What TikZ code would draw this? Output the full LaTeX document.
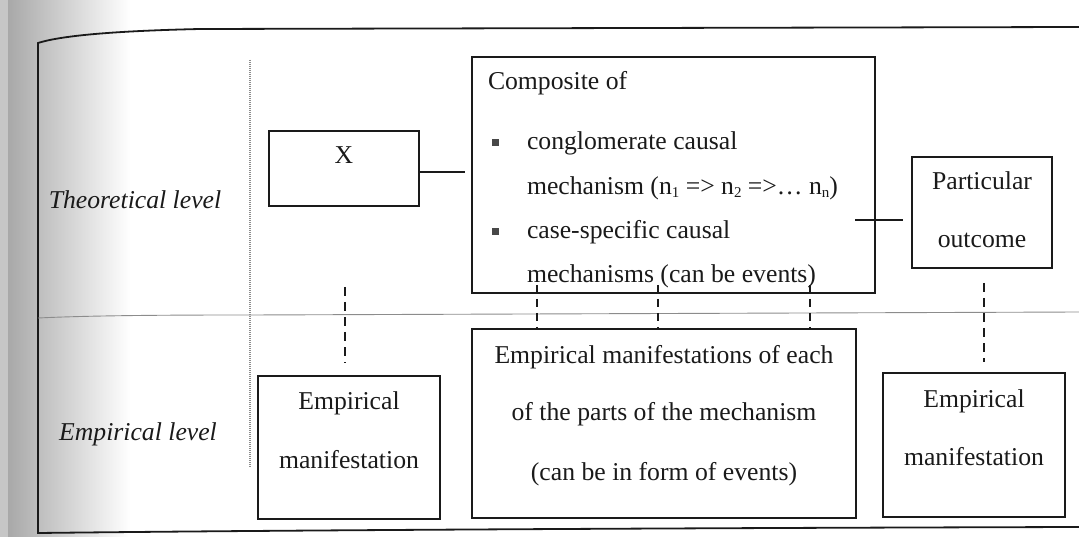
\documentclass[tikz,border=0pt]{standalone}
\usepackage{fontspec}
\setmainfont{Liberation Serif}
\definecolor{ink}{HTML}{1A1A1A}
\definecolor{rule}{HTML}{8C8C8C}
\begin{document}
\begin{tikzpicture}[x=1pt,y=-1pt,
  every node/.style={font=\fontsize{25.7}{30}\selectfont, inner sep=0pt, outer sep=0pt, text=ink},
  box/.style={draw=ink, line width=1.8pt, rectangle},
  link/.style={draw=ink, line width=1.6pt},
  dashlink/.style={draw=ink, line width=1.8pt, dash pattern=on 9pt off 6pt},
  seprule/.style={draw=rule, line width=0.9pt},
  framerule/.style={draw=ink, line width=1.8pt},
  lvl/.style={font=\fontsize{25.7}{30}\selectfont\itshape, anchor=base},
  bul/.style={anchor=base west}]
\useasboundingbox (0,0) rectangle (1079,537);
% scan shadow at the left edge
\fill[gray!45] (0,0) rectangle (8,537);
\shade[left color=gray!68, right color=white] (8,0) rectangle (130,537);

% outer frame
\draw[framerule] (1079,27) -- (200,29) .. controls (110,31) and (60,36) .. (38,43) -- (38,533) .. controls (300,530) and (700,528) .. (1079,527);
% level separators
\draw[seprule] (38,318) .. controls (100,315) and (200,315) .. (250,315) -- (1079,312);
\draw[draw=rule, line width=1.2pt, dash pattern=on 1pt off 1pt] (250,60) -- (250,467);

% level labels
\node[lvl] (theo) at (135,209) {Theoretical level};
\node[lvl] (emp) at (138,440) {Empirical level};

% theoretical boxes
\node[box, minimum width=150pt, minimum height=75pt] (xbox) at (344,168.5) {};
\node[anchor=base] (xt) at (344,164) {X};

\node[box, minimum width=403pt, minimum height=236pt] (comp) at (673.5,175) {};
\node[anchor=base west] (c0) at (488,90) {Composite of};
\node[bul] (c1) at (492,150) {\makebox[35pt][l]{\color{ink!80}\rule[4pt]{6.5pt}{6.5pt}}conglomerate causal};
\node[bul] (c2) at (527,195) {mechanism (n\raisebox{-3pt}{\fontsize{15}{15}\selectfont 1} => n\raisebox{-3pt}{\fontsize{15}{15}\selectfont 2} =>… n\raisebox{-3pt}{\fontsize{15}{15}\selectfont n})};
\node[bul] (c3) at (492,239) {\makebox[35pt][l]{\color{ink!80}\rule[4pt]{6.5pt}{6.5pt}}case-specific causal};
\node[bul] (c4) at (527,283) {mechanisms (can be events)};

\node[box, minimum width=140pt, minimum height=111pt] (part) at (982,212.5) {};
\node[anchor=base] (p1) at (982,190) {Particular};
\node[anchor=base] (p2) at (982,248) {outcome};

% empirical boxes
\node[box, minimum width=182pt, minimum height=143pt] (emp1) at (349,447.5) {};
\node[anchor=base] (e11) at (349,409) {Empirical};
\node[anchor=base] (e12) at (349,468) {manifestation};

\node[box, minimum width=384pt, minimum height=189pt] (emp2) at (664,423.5) {};
\node[anchor=base] (e21) at (664,363) {Empirical manifestations of each};
\node[anchor=base] (e22) at (664,420) {of the parts of the mechanism};
\node[anchor=base] (e23) at (664,480) {(can be in form of events)};

\node[box, minimum width=182pt, minimum height=144pt] (emp3) at (974,445) {};
\node[anchor=base] (e31) at (974,407) {Empirical};
\node[anchor=base] (e32) at (974,465) {manifestation};

% solid connectors
\coordinate (xend) at (465,172);
\draw[link] (xbox.east |- xend) -- (xend);
\coordinate (pa) at (855,220);
\coordinate (pb) at (903,220);
\draw[link] (pa) -- (pb);

% dashed connectors
\coordinate (dx) at (345,287);
\coordinate (dxe) at (345,363);
\draw[dashlink] (dx) -- (dxe);
\coordinate (d1) at (537,285);
\coordinate (d2) at (658,285);
\coordinate (d3) at (810,285);
\draw[dashlink, dash pattern=on 8pt off 6pt] (d1) -- (d1 |- emp2.north);
\draw[dashlink, dash pattern=on 8pt off 6pt] (d2) -- (d2 |- emp2.north);
\draw[dashlink, dash pattern=on 8pt off 6pt] (d3) -- (d3 |- emp2.north);
\coordinate (dp) at (984,283);
\coordinate (dpe) at (984,362);
\draw[dashlink] (dp) -- (dpe);
\end{tikzpicture}
\end{document}
